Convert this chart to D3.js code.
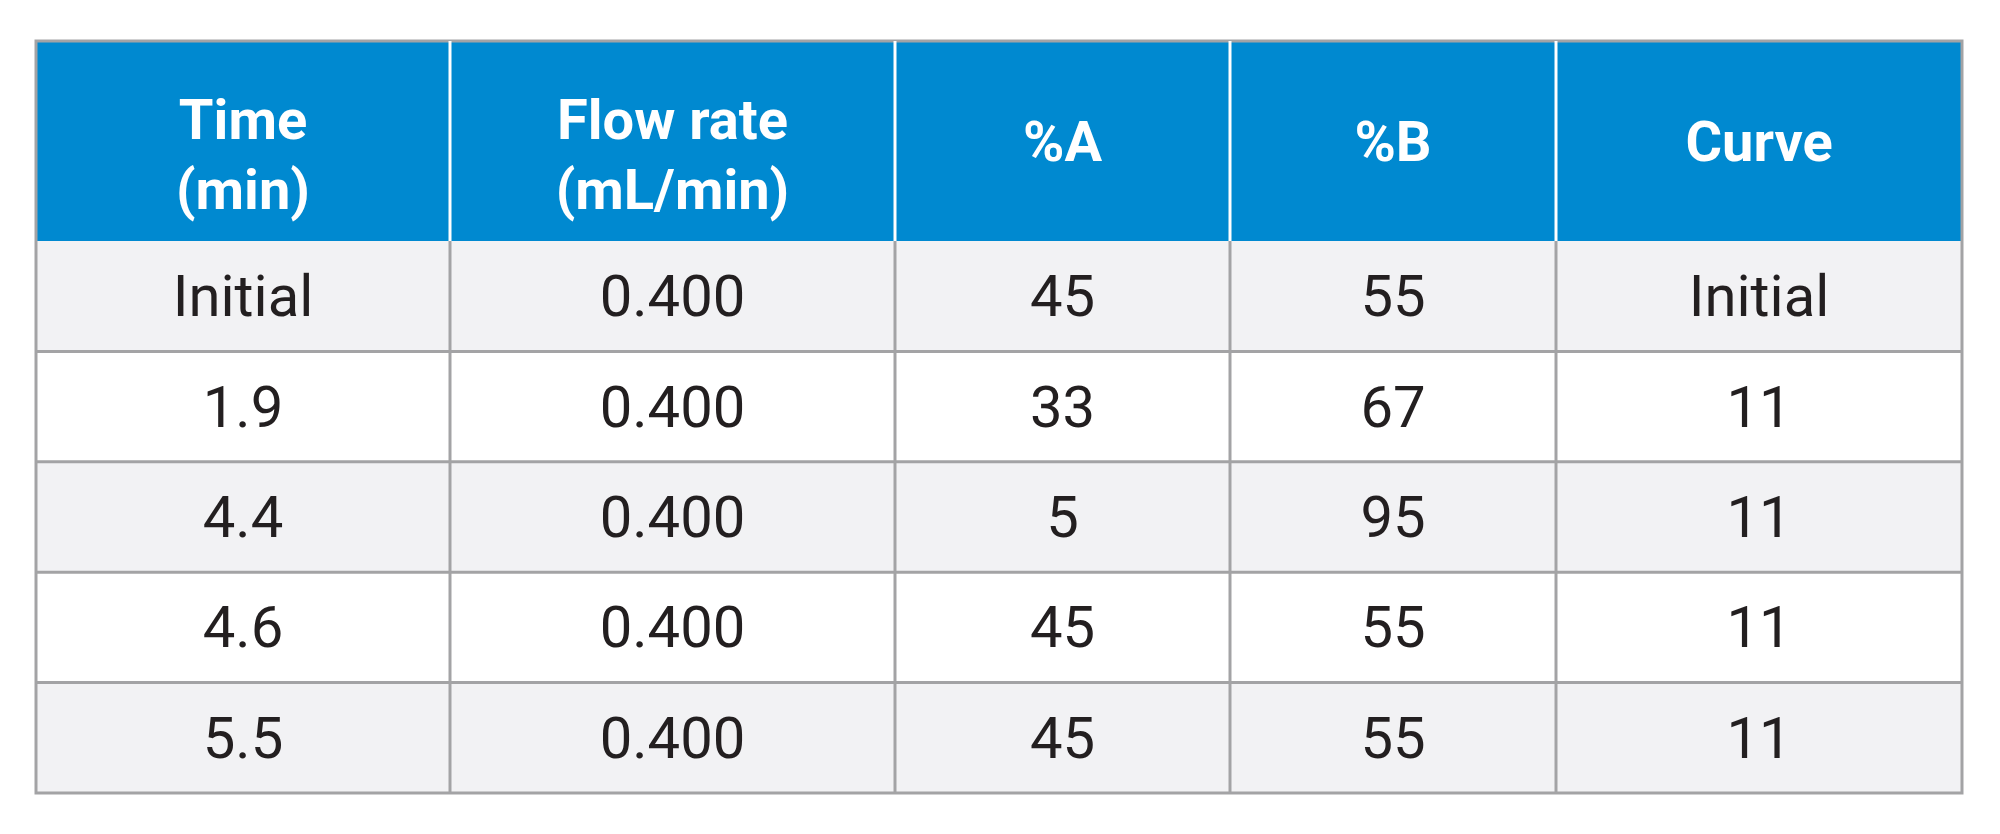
<!DOCTYPE html>
<html><head><meta charset="utf-8">
<script src="https://cdn.jsdelivr.net/npm/d3@7"></script>
<style>body{margin:0;background:#fff}</style></head>
<body><svg id="c" width="2000" height="834"></svg>
<script>
const headers = [["Time","(min)"],["Flow rate","(mL/min)"],["%A"],["%B"],["Curve"]];
const time = ["Initial","1.9","4.4","4.6","5.5"];
const flow = ["0.400","0.400","0.400","0.400","0.400"];
const pctA = ["45","33","5","45","45"];
const pctB = ["55","67","95","55","55"];
const curve = ["Initial","11","11","11","11"];
const cols = [time, flow, pctA, pctB, curve];
const colEdges = [36,450,895,1230,1556,1962];
const svg = d3.select("#c");
const tableTop = 41, headH = 200, rowH = 110.4;
const y = d3.scaleBand().domain(d3.range(time.length)).range([tableTop+headH, tableTop+headH+rowH*time.length]).padding(0);
const font = "Roboto, 'Liberation Sans', sans-serif";
svg.append("rect").attr("x",colEdges[0]).attr("y",tableTop).attr("width",colEdges[5]-colEdges[0]).attr("height",headH).attr("fill","#0089d0");
headers.forEach((h,i)=>{
  const cx=(colEdges[i]+colEdges[i+1])/2;
  const t=svg.append("text").attr("x",cx).attr("text-anchor","middle").attr("fill","#fff")
    .attr("font-family",font).attr("font-weight","bold").attr("font-size",56);
  if(h.length===2){
    t.append("tspan").attr("x",cx).attr("y",tableTop+98).text(h[0]);
    t.append("tspan").attr("x",cx).attr("y",tableTop+168).text(h[1]);
  } else t.attr("y",tableTop+120).text(h[0]);
});
time.forEach((_,r)=>{
  svg.append("rect").attr("x",colEdges[0]).attr("y",y(r)).attr("width",colEdges[5]-colEdges[0]).attr("height",y.bandwidth())
    .attr("fill", r%2===0?"#f2f2f4":"#ffffff");
  cols.forEach((c,i)=>{
    svg.append("text").attr("x",(colEdges[i]+colEdges[i+1])/2).attr("y",y(r)+y.bandwidth()/2+20)
      .attr("text-anchor","middle").attr("fill","#231f20").attr("font-family",font).attr("font-size",58).text(c[r]);
  });
});
const bottom = tableTop+headH+rowH*time.length;
svg.append("rect").attr("x",colEdges[0]).attr("y",tableTop).attr("width",colEdges[5]-colEdges[0]).attr("height",bottom-tableTop)
  .attr("fill","none").attr("stroke","#a3a3a5").attr("stroke-width",3);
colEdges.slice(1,5).forEach(x=>{
  svg.append("line").attr("x1",x).attr("x2",x).attr("y1",tableTop).attr("y2",tableTop+headH).attr("stroke","#fff").attr("stroke-width",3);
  svg.append("line").attr("x1",x).attr("x2",x).attr("y1",tableTop+headH).attr("y2",bottom).attr("stroke","#a3a3a5").attr("stroke-width",3);
});
d3.range(1,time.length).forEach(r=>{
  svg.append("line").attr("x1",colEdges[0]).attr("x2",colEdges[5]).attr("y1",y(r)).attr("y2",y(r)).attr("stroke","#a3a3a5").attr("stroke-width",3);
});
</script></body></html>
